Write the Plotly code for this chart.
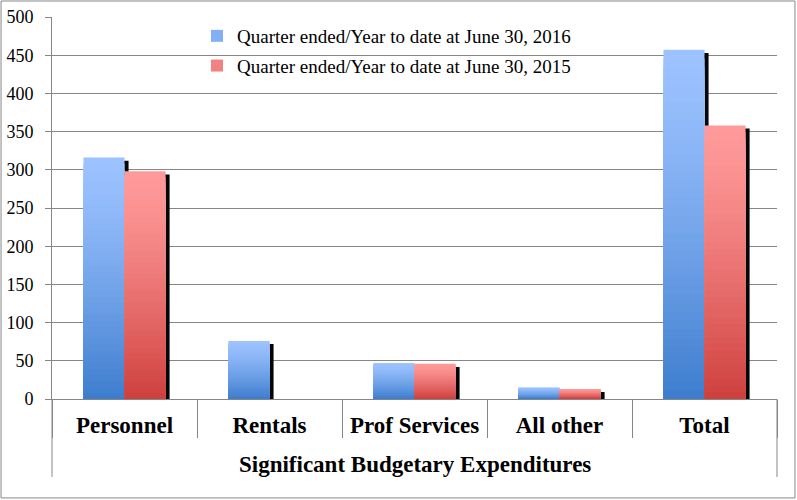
import plotly.graph_objects as go

# ---- data ----
group_label = "Significant Budgetary Expenditures"
categories = ["Personnel", "Rentals", "Prof Services", "All other", "Total"]
series_names = ["Quarter ended/Year to date at June 30, 2016",
                "Quarter ended/Year to date at June 30, 2015"]
values_2016 = [316, 76, 47, 15, 457]
values_2015 = [298, 0, 46, 13, 358]
y_ticks = [0, 50, 100, 150, 200, 250, 300, 350, 400, 450, 500]

# ---- styling ----
blue_top, blue_bot = (156, 194, 255), (60, 124, 205)
red_top, red_bot = (255, 154, 154), (205, 62, 60)
GRID = "#868686"
N_SLICES = 40
BAR_W = 0.283
SHADOW_DX = 0.028
SHADOW_DY = 4.0


def mix(c1, c2, t):
    return "rgb(%d,%d,%d)" % tuple(round(a + (b - a) * t) for a, b in zip(c1, c2))


fig = go.Figure()

series = [
    (series_names[0], values_2016, blue_top, blue_bot, -BAR_W, "s16"),
    (series_names[1], values_2015, red_top, red_bot, 0.0, "s15"),
]

# shadows first (behind all bars)
for name, vals, ct, cb, off, grp in series:
    fig.add_trace(go.Bar(
        x=categories, y=vals, base=[-SHADOW_DY] * len(vals),
        offset=off + SHADOW_DX, width=BAR_W,
        marker=dict(color="#050505", line=dict(width=0)),
        showlegend=False, hoverinfo="skip", legendgroup=grp,
    ))

# gradient bars: tallest (lightest) first, shorter darker ones on top
for name, vals, ct, cb, off, grp in series:
    legend_k = int(N_SLICES * 0.35)
    for k in range(N_SLICES):
        frac = k / N_SLICES
        col = mix(ct, cb, frac ** 1.3)
        fig.add_trace(go.Bar(
            x=categories, y=[v * (1 - frac) for v in vals],
            offset=off, width=BAR_W,
            marker=dict(color=col, line=dict(width=0)),
            name=name, legendgroup=grp,
            showlegend=(k == legend_k),
            hoverinfo="skip" if k else None,
        ))

fig.update_layout(
    width=797, height=500,
    margin=dict(l=52, r=20, t=17, b=101),
    paper_bgcolor="white", plot_bgcolor="white",
    barmode="overlay",
    showlegend=True,
    legend=dict(
        x=0.2, y=1.0, xanchor="left", yanchor="top",
        bgcolor="rgba(0,0,0,0)",
        font=dict(family="Liberation Serif", size=19, color="#000"),
        tracegroupgap=2, itemwidth=30,
    ),
    font=dict(family="Liberation Serif", color="#000"),
)

fig.update_yaxes(
    range=[0, 500], tickvals=y_ticks, automargin=False,
    showgrid=True, gridcolor=GRID, gridwidth=1,
    showline=True, linecolor=GRID, linewidth=1,
    ticks="outside", ticklen=6, tickcolor=GRID,
    tickfont=dict(family="Liberation Serif", size=18, color="#000"),
    ticklabelstandoff=8,
    zeroline=False,
)

fig.update_xaxes(
    type="category", automargin=False,
    showline=True, linecolor=GRID, linewidth=1,
    ticks="outside", ticklen=38, tickcolor=GRID, tickson="boundaries",
    tickfont=dict(family="Liberation Serif", size=23, color="#000", weight="bold"),
    ticklabelstandoff=5,
    showgrid=False,
)

# group label spanning all categories, with its two outer dividers
fig.add_annotation(text=group_label, xref="paper", yref="paper",
                   x=0.5, y=-0.172, xanchor="center", yanchor="middle",
                   showarrow=False,
                   font=dict(family="Liberation Serif", size=23, color="#000", weight="bold"))
for xp in (0, 1):
    fig.add_shape(type="line", xref="paper", yref="paper",
                  x0=xp, x1=xp, y0=0, y1=-0.204,
                  line=dict(color=GRID, width=1))

# outer chart border
fig.add_shape(type="rect", xref="paper", yref="paper",
              x0=-0.0703, x1=1.0248, y0=-0.259, y1=1.0419,
              line=dict(color=GRID, width=1), fillcolor="rgba(0,0,0,0)", layer="below")

fig.write_html("out.html", config={"displayModeBar": False},
               post_script="document.body.style.margin='0';")
